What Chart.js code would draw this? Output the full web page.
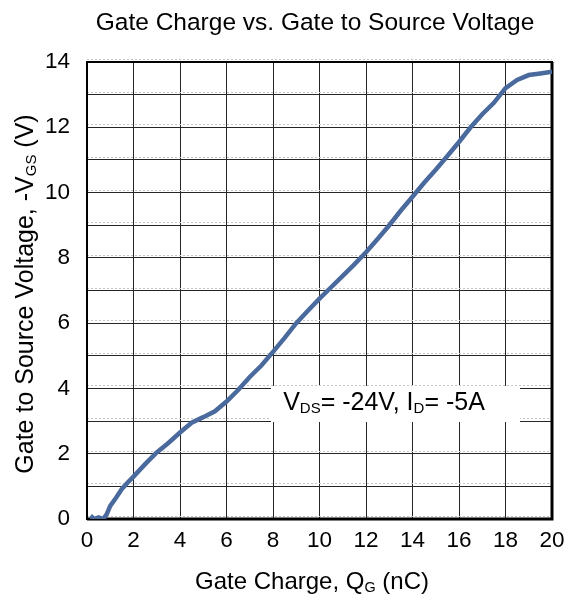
<!DOCTYPE html>
<html>
<head>
<meta charset="utf-8">
<title>Gate Charge vs. Gate to Source Voltage</title>
<script src="https://cdn.jsdelivr.net/npm/chart.js@4.4.1/dist/chart.umd.min.js"></script>
<style>
    html, body { margin: 0; padding: 0; background: #fff; }
    #wrap { width: 565px; height: 594px; }
</style>
</head>
<body>
<div id="wrap"><canvas id="gateChargeChart" width="565" height="594"></canvas></div>
<script>
// Gate charge curve
const gateCharge = [0.15, 0.3, 0.5, 0.7, 0.85, 1.0, 1.25, 1.5, 1.75, 2.0, 2.5, 3.0, 3.5, 4.0, 4.5,
    5.0, 5.5, 6.0, 6.5, 7.0, 7.5, 8.0, 8.5, 9.0, 9.5, 10.0, 10.5, 11.0, 11.5, 12.0, 12.5,
    13.0, 13.5, 14.0, 14.5, 15.0, 15.5, 16.0, 16.5, 17.0, 17.5, 18.0, 18.5, 19.0, 19.5, 20.0];
const gateVoltage = [0.1, 0.0, 0.05, 0.0, 0.15, 0.4, 0.65, 0.92, 1.12, 1.3, 1.68, 2.04, 2.33, 2.65, 2.95,
    3.12, 3.3, 3.6, 3.95, 4.35, 4.7, 5.12, 5.55, 6.0, 6.38, 6.75, 7.1, 7.45, 7.8, 8.17, 8.58,
    9.0, 9.45, 9.87, 10.3, 10.7, 11.12, 11.55, 12.0, 12.4, 12.75, 13.2, 13.45, 13.6, 13.65, 13.7];

// Tick labels
const xTickLabels = [0, 2, 4, 6, 8, 10, 12, 14, 16, 18, 20];
const yTickLabels = [0, 2, 4, 6, 8, 10, 12, 14];

const FONT = "'Liberation Sans', Arial, sans-serif";

// draw a line of text with subscript parts, centered on x
function drawRichText(ctx, parts, x, y, size) {
    const subSize = size * 0.6;
    let total = 0;
    parts.forEach(p => {
        ctx.font = (p.sub ? subSize : size) + 'px ' + FONT;
        p.w = ctx.measureText(p.t).width;
        total += p.w;
    });
    let cx = x - total / 2;
    ctx.textAlign = 'left';
    ctx.textBaseline = 'alphabetic';
    parts.forEach(p => {
        ctx.font = (p.sub ? subSize : size) + 'px ' + FONT;
        ctx.fillText(p.t, cx, p.sub ? y + size * 0.13 : y);
        cx += p.w;
    });
}

const framePlugin = {
    id: 'frame',
    beforeDatasetsDraw(chart) {
        const ctx = chart.ctx;
        const area = chart.chartArea;
        const yScale = chart.scales.y;
        ctx.save();

        // faint dotted lines sitting just above each horizontal grid line
        ctx.strokeStyle = '#c4c4c4';
        ctx.lineWidth = 1;
        ctx.setLineDash([2, 2]);
        for (let v = 0; v <= 14; v++) {
            const py = Math.round(yScale.getPixelForValue(v)) - 2.5;
            ctx.beginPath();
            ctx.moveTo(area.left, py);
            ctx.lineTo(area.right, py);
            ctx.stroke();
        }
        ctx.setLineDash([]);

        // test condition label
        ctx.fillStyle = '#fff';
        ctx.fillRect(271, 386, 249, 36);
        ctx.fillStyle = '#000';
        drawRichText(ctx, [
            {t: 'V'}, {t: 'DS', sub: true}, {t: '= -24V, I'}, {t: 'D', sub: true}, {t: '= -5A'}
        ], 384, 410, 25);

        // plot frame
        ctx.strokeStyle = '#000';
        ctx.lineWidth = 2;
        ctx.strokeRect(area.left, area.top, area.right - area.left, area.bottom - area.top);
        ctx.lineWidth = 3;
        ctx.beginPath();
        ctx.moveTo(area.left, area.bottom);
        ctx.lineTo(area.right, area.bottom);
        ctx.lineTo(area.right, area.top);
        ctx.stroke();
        ctx.restore();
    },
    afterDraw(chart) {
        const ctx = chart.ctx;
        ctx.save();
        ctx.fillStyle = '#000';
        drawRichText(ctx, [{t: 'Gate Charge vs. Gate to Source Voltage'}], 315, 30, 24.5);
        drawRichText(ctx, [{t: 'Gate Charge, Q'}, {t: 'G', sub: true}, {t: ' (nC)'}], 312, 589, 24);
        ctx.translate(33, 294);
        ctx.rotate(-Math.PI / 2);
        drawRichText(ctx, [{t: 'Gate to Source Voltage, -V'}, {t: 'GS', sub: true}, {t: ' (V)'}], 0, 0, 25);
        ctx.restore();
    }
};

function createGateChargeChart() {
    const ctx = document.getElementById('gateChargeChart');
    const points = gateCharge.map((q, i) => ({x: q, y: gateVoltage[i]}));

    new Chart(ctx, {
        type: 'line',
        data: {
            datasets: [{
                data: points,
                borderColor: '#4a6a9e',
                borderWidth: 4.5,
                pointRadius: 0,
                tension: 0,
                fill: false
            }]
        },
        options: {
            responsive: false,
            animation: false,
            layout: {
                padding: {top: 62, right: 13, left: 0, bottom: 0}
            },
            plugins: {
                legend: {display: false},
                tooltip: {enabled: false}
            },
            scales: {
                x: {
                    type: 'linear',
                    min: 0,
                    max: 20,
                    afterBuildTicks: s => { s.ticks = xTickLabels.map(v => ({value: v})); },
                    afterFit: s => { s.height = 75; s.paddingLeft = 0; s.paddingRight = 0; },
                    grid: {color: '#262626', lineWidth: 1, drawTicks: false},
                    border: {display: false},
                    ticks: {
                        color: '#000',
                        font: {family: FONT, size: 22.5},
                        padding: 8,
                        maxRotation: 0,
                        autoSkip: false
                    }
                },
                y: {
                    type: 'linear',
                    min: 0,
                    max: 14,
                    afterFit: s => { s.width = 87; s.paddingTop = 0; s.paddingBottom = 0; },
                    grid: {color: '#262626', lineWidth: 1, drawTicks: false},
                    border: {display: false},
                    ticks: {
                        stepSize: 1,
                        color: '#000',
                        font: {family: FONT, size: 22.5},
                        padding: 17,
                        autoSkip: false,
                        callback: v => yTickLabels.includes(v) ? v : ''
                    }
                }
            }
        },
        plugins: [framePlugin]
    });
}

document.addEventListener('DOMContentLoaded', createGateChargeChart);
</script>
</body>
</html>
